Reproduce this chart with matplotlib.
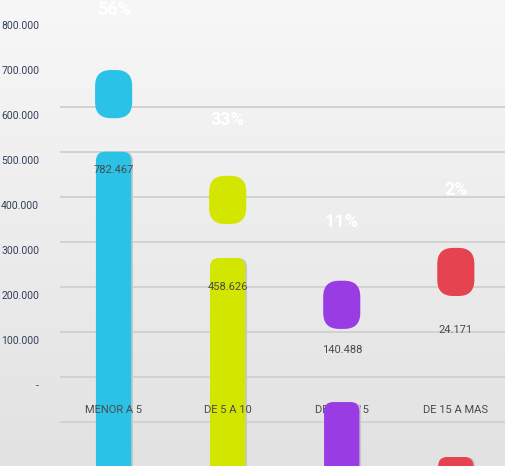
import numpy as np
import matplotlib
matplotlib.use('Agg')
import matplotlib.pyplot as plt
from matplotlib.patches import FancyBboxPatch
from matplotlib.ticker import FuncFormatter
import matplotlib.transforms as mtransforms

plt.rcParams['font.family'] = ['Roboto', 'DejaVu Sans']

# poblacion por grupo de edad
grupos = ['MENOR A 5', 'DE 5 A 10', 'DE 11 A 15', 'DE 15 A MAS']
valores = [782467, 458626, 140488, 24171]
porcentajes = [56, 33, 11, 2]
colores = ['#2BC2E8', '#D3E600', '#9A3CE4', '#E5434F']

# altura de cada figura (cuerpo y cabeza) en unidades del eje
cuerpo_tope = [500000, 264000, -56000, -178000]
cabeza_centro = [628000, 393000, 160000, 233000]
etiqueta_y = [460000, 200000, 60000, 104000]
porcentaje_y = [815000, 571000, 344000, 415000]

fig = plt.figure(figsize=(5.06, 4.66), dpi=100)

# fondo degradado gris
bg = fig.add_axes([0, 0, 1, 1], zorder=-10)
grad = np.linspace(0, 1, 256).reshape(-1, 1)
bg.imshow(grad, cmap=matplotlib.colors.LinearSegmentedColormap.from_list('g', ['#F7F7F7', '#E2E2E2']),
          aspect='auto', extent=[0, 1, 0, 1], origin='upper')
bg.axis('off')

ax = fig.add_axes([60 / 506, 0, 446 / 506, 1])
ax.patch.set_visible(False)
x = np.arange(len(grupos))
ax.set_xlim(-0.47, 3.44)
ax.set_ylim(-198000, 837000)

# relacion de escala para redondear las esquinas
w_px, h_px = 446, 466
asp = ((837000 + 198000) / h_px) / ((3.44 + 0.47) / w_px)

ax.hlines(np.arange(-100000, 700000, 100000), -0.47, 3.44, color='#D2D2D2', lw=1.4, zorder=1)

ancho = 0.31
base = -215000
for i in range(len(grupos)):
    z = 4 if i == 2 else 2
    cuerpo = FancyBboxPatch((x[i] - ancho / 2, base), ancho, cuerpo_tope[i] - base,
                            boxstyle='round,pad=0,rounding_size=0.08', mutation_aspect=asp,
                            fc=colores[i], ec='none', zorder=z)
    ax.add_patch(cuerpo)
    sombra = FancyBboxPatch((x[i] - ancho / 2 + 0.015, base), ancho, cuerpo_tope[i] - base,
                            boxstyle='round,pad=0,rounding_size=0.08', mutation_aspect=asp,
                            fc='#C8C8C8', ec='none', zorder=z - 0.5)
    ax.add_patch(sombra)
    hw, hh = 0.325, 107000
    cabeza = FancyBboxPatch((x[i] - hw / 2, cabeza_centro[i] - hh / 2), hw, hh,
                            boxstyle='round,pad=0,rounding_size=0.14', mutation_aspect=asp,
                            fc=colores[i], ec='none', zorder=2)
    ax.add_patch(cabeza)
    ax.text(x[i], etiqueta_y[i], f'{valores[i]:,}'.replace(',', '.'), ha='center', va='center',
            fontsize=8, color='#4A4A4A', zorder=3)
    ax.text(x[i], -73000, grupos[i], ha='center', va='center', fontsize=8,
            color='#4A4A4A', zorder=3)
    ax.text(x[i], porcentaje_y[i], f'{porcentajes[i]}%', ha='center', va='center',
            fontsize=13, fontweight='bold', color='white', zorder=3)

ax.set_yticks(np.arange(0, 900000, 100000))
ax.yaxis.set_major_formatter(FuncFormatter(lambda v, p: '-' if v == 0 else f'{int(v):,}'.replace(',', '.')))
ax.tick_params(axis='y', length=0, pad=15, labelsize=7.5, labelcolor='#33405A')
off = mtransforms.ScaledTranslation(0, -8 / 100, fig.dpi_scale_trans)
for lab in ax.get_yticklabels():
    lab.set_transform(lab.get_transform() + off)
ax.set_xticks([])
for s in ax.spines.values():
    s.set_visible(False)

fig.savefig('out.png', dpi=100)
